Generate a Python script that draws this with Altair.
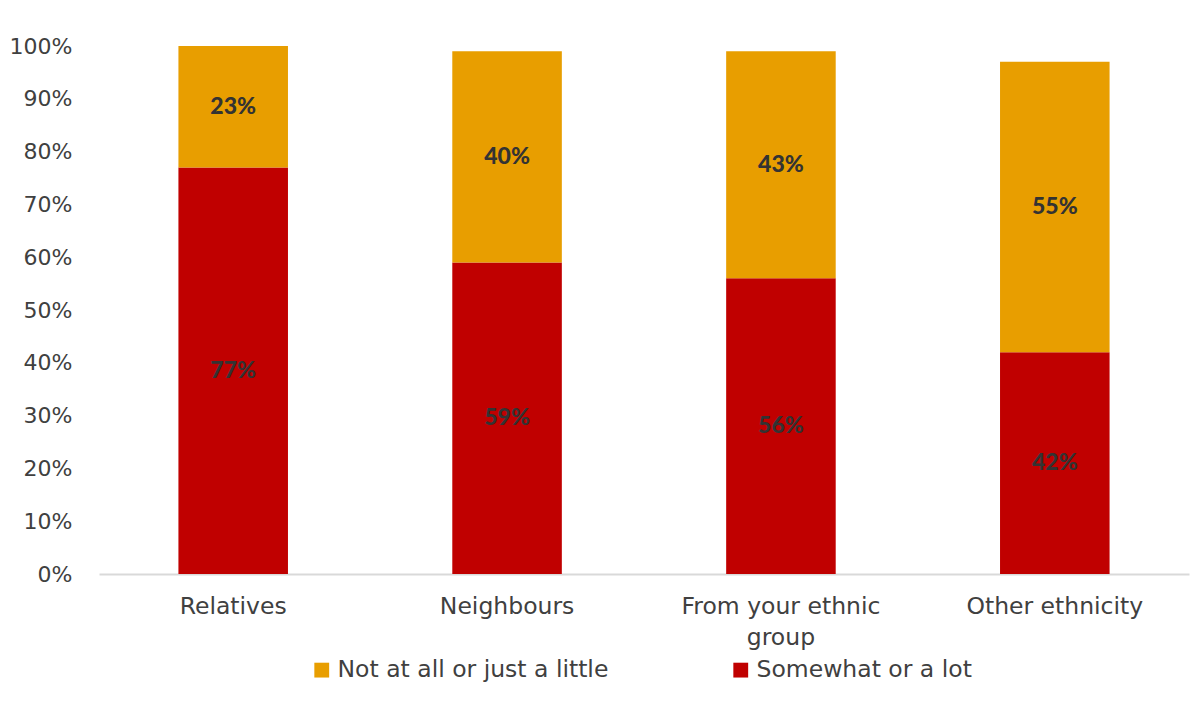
import altair as alt
import pandas as pd

categories = ["Relatives", "Neighbours", "From your ethnic group", "Other ethnicity"]
somewhat = [77, 59, 56, 42]
not_at_all = [23, 40, 43, 55]
series_names = ["Not at all or just a little", "Somewhat or a lot"]
series_colors = ["#E89E00", "#C00000"]
y_ticks = [0, 10, 20, 30, 40, 50, 60, 70, 80, 90, 100]

rows = []
for c, s, n in zip(categories, somewhat, not_at_all):
    rows.append({"category": c, "series": series_names[1], "value": s, "order": 0})
    rows.append({"category": c, "series": series_names[0], "value": n, "order": 1})
df = pd.DataFrame(rows)

FONT = "DejaVu Sans"
BOLD_FONT = "Lato"

base = alt.Chart(df).transform_stack(
    stack="value",
    groupby=["category"],
    sort=[alt.SortField("order", order="ascending")],
    as_=["y0", "y1"],
).transform_calculate(
    mid="(datum.y0 + datum.y1) / 2",
    lab="datum.value + '%'",
)

x_enc = alt.X(
    "category:N",
    sort=categories,
    title=None,
    scale=alt.Scale(paddingInner=0.6, paddingOuter=0.29),
    axis=alt.Axis(
        labelAngle=0,
        ticks=False,
        domainColor="#D9D9D9",
        domainWidth=2,
        labelFontSize=23.5,
        labelColor="#404040",
        labelFont=FONT,
        labelPadding=20,
        labelLineHeight=31,
        labelBaseline="top",
        labelLimit=400,
        labelExpr="datum.label == 'From your ethnic group' ? ['From your ethnic', 'group'] : datum.label",
    ),
)

bars = base.mark_bar().encode(
    x=x_enc,
    y=alt.Y(
        "y0:Q",
        title=None,
        scale=alt.Scale(domain=[0, 100], nice=False),
        axis=alt.Axis(
            values=y_ticks,
            labelExpr="datum.value + '%'",
            domain=False,
            ticks=False,
            grid=False,
            labelFontSize=22,
            labelColor="#404040",
            labelFont=FONT,
            labelPadding=27,
        ),
    ),
    y2="y1:Q",
    color=alt.Color(
        "series:N",
        scale=alt.Scale(domain=series_names, range=series_colors),
        legend=alt.Legend(
            title=None,
            orient="none",
            direction="horizontal",
            legendX=211,
            legendY=612,
            symbolType="square",
            symbolSize=220,
            symbolStrokeWidth=0,
            symbolOpacity=1,
            labelFontSize=23.5,
            labelColor="#404040",
            labelFont=FONT,
            labelLimit=500,
            columnPadding=120,
            labelOffset=4,
        ),
    ),
)

labels = base.mark_text(
    font=BOLD_FONT, fontSize=23, fontWeight=900, color="#333333"
).encode(
    x=alt.X("category:N", sort=categories),
    y=alt.Y("mid:Q"),
    text="lab:N",
)

chart = alt.layer(bars, labels).properties(
    width=1090,
    height=528,
    autosize=alt.AutoSizeParams(type="none"),
    padding={"left": 99, "top": 46, "right": 8, "bottom": 133},
    background="white",
).configure_view(stroke=None)

chart.save("out.html", embed_options={"renderer": "svg", "actions": False})
